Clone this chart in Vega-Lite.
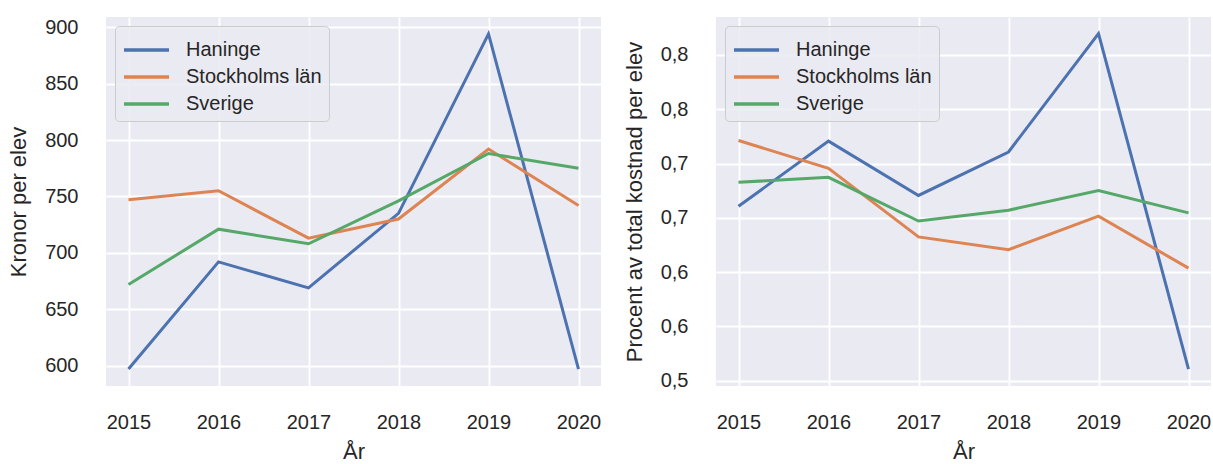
{
  "$schema": "https://vega.github.io/schema/vega-lite/v6.json",
  "padding": {"left": 7, "top": 17, "right": 0, "bottom": 0},
  "background": "white",
  "spacing": 22,
  "datasets": {
    "kronor": [
      {"year": 2015, "region": "Haninge", "value": 597},
      {"year": 2016, "region": "Haninge", "value": 692},
      {"year": 2017, "region": "Haninge", "value": 669},
      {"year": 2018, "region": "Haninge", "value": 735},
      {"year": 2019, "region": "Haninge", "value": 894},
      {"year": 2020, "region": "Haninge", "value": 597},
      {"year": 2015, "region": "Stockholms län", "value": 747},
      {"year": 2016, "region": "Stockholms län", "value": 755},
      {"year": 2017, "region": "Stockholms län", "value": 713},
      {"year": 2018, "region": "Stockholms län", "value": 730},
      {"year": 2019, "region": "Stockholms län", "value": 792},
      {"year": 2020, "region": "Stockholms län", "value": 742},
      {"year": 2015, "region": "Sverige", "value": 672},
      {"year": 2016, "region": "Sverige", "value": 721},
      {"year": 2017, "region": "Sverige", "value": 708},
      {"year": 2018, "region": "Sverige", "value": 746},
      {"year": 2019, "region": "Sverige", "value": 788},
      {"year": 2020, "region": "Sverige", "value": 775}
    ],
    "procent": [
      {"year": 2015, "region": "Haninge", "value": 0.6606},
      {"year": 2016, "region": "Haninge", "value": 0.7206},
      {"year": 2017, "region": "Haninge", "value": 0.6706},
      {"year": 2018, "region": "Haninge", "value": 0.7106},
      {"year": 2019, "region": "Haninge", "value": 0.8197},
      {"year": 2020, "region": "Haninge", "value": 0.5106},
      {"year": 2015, "region": "Stockholms län", "value": 0.7212},
      {"year": 2016, "region": "Stockholms län", "value": 0.6955},
      {"year": 2017, "region": "Stockholms län", "value": 0.6324},
      {"year": 2018, "region": "Stockholms län", "value": 0.6206},
      {"year": 2019, "region": "Stockholms län", "value": 0.6515},
      {"year": 2020, "region": "Stockholms län", "value": 0.6036},
      {"year": 2015, "region": "Sverige", "value": 0.6827},
      {"year": 2016, "region": "Sverige", "value": 0.6873},
      {"year": 2017, "region": "Sverige", "value": 0.647},
      {"year": 2018, "region": "Sverige", "value": 0.657},
      {"year": 2019, "region": "Sverige", "value": 0.6752},
      {"year": 2020, "region": "Sverige", "value": 0.6545}
    ]
  },
  "hconcat": [
    {
      "width": 495,
      "height": 369,
      "data": {"name": "kronor"},
      "mark": {"type": "line", "strokeWidth": 3},
      "encoding": {
        "x": {"field": "year", "type": "quantitative", "title": "År",
              "scale": {"domain": [2014.75, 2020.25], "nice": false, "zero": false},
              "axis": {"values": [2015, 2016, 2017, 2018, 2019, 2020], "format": "d"}},
        "y": {"field": "value", "type": "quantitative", "title": "Kronor per elev",
              "scale": {"domain": [582, 909], "nice": false, "zero": false},
              "axis": {"values": [600, 650, 700, 750, 800, 850, 900], "format": "d"}},
        "color": {"field": "region", "type": "nominal",
                  "scale": {"domain": ["Haninge", "Stockholms län", "Sverige"], "range": ["#4C72B0", "#DD8452", "#55A868"]},
                  "legend": {"title": null, "orient": "top-left", "offset": 9}}
      }
    },
    {
      "width": 495,
      "height": 369,
      "data": {"name": "procent"},
      "mark": {"type": "line", "strokeWidth": 3},
      "encoding": {
        "x": {"field": "year", "type": "quantitative", "title": "År",
              "scale": {"domain": [2014.75, 2020.25], "nice": false, "zero": false},
              "axis": {"values": [2015, 2016, 2017, 2018, 2019, 2020], "format": "d"}},
        "y": {"field": "value", "type": "quantitative", "title": "Procent av total kostnad per elev",
              "scale": {"domain": [0.495, 0.835], "nice": false, "zero": false},
              "axis": {"values": [0.5, 0.55, 0.6, 0.65, 0.7, 0.75, 0.8],
                       "labelExpr": "replace(format(datum.value, '.1f'), '.', ',')"}},
        "color": {"field": "region", "type": "nominal",
                  "scale": {"domain": ["Haninge", "Stockholms län", "Sverige"], "range": ["#4C72B0", "#DD8452", "#55A868"]},
                  "legend": {"title": null, "orient": "top-left", "offset": 9}}
      }
    }
  ],
  "resolve": {"scale": {"color": "independent"}, "legend": {"color": "independent"}},
  "config": {
    "font": "Liberation Sans",
    "view": {"fill": "#EAEAF2", "stroke": null},
    "axis": {
      "domain": false,
      "ticks": false,
      "tickSize": 0,
      "grid": true,
      "gridColor": "#FFFFFF",
      "gridWidth": 1.8,
      "labelFont": "Liberation Sans",
      "labelFontSize": 20,
      "labelColor": "#262626",
      "titleFont": "Liberation Sans",
      "titleFontSize": 22,
      "titleFontWeight": "normal",
      "titleColor": "#262626"
    },
    "axisX": {"labelPadding": 26, "titlePadding": 9},
    "axisY": {"labelPadding": 28, "titlePadding": 14},
    "legend": {
      "labelFont": "Liberation Sans",
      "labelFontSize": 20,
      "labelColor": "#262626",
      "symbolType": "M-1,0L2,0",
      "symbolSize": 900,
      "symbolStrokeWidth": 3.5,
      "symbolFillColor": "transparent",
      "labelOffset": 30,
      "rowPadding": 0,
      "padding": 7,
      "fillColor": "rgba(234,234,242,0.85)",
      "strokeColor": "#cccccc",
      "cornerRadius": 4
    }
  }
}
